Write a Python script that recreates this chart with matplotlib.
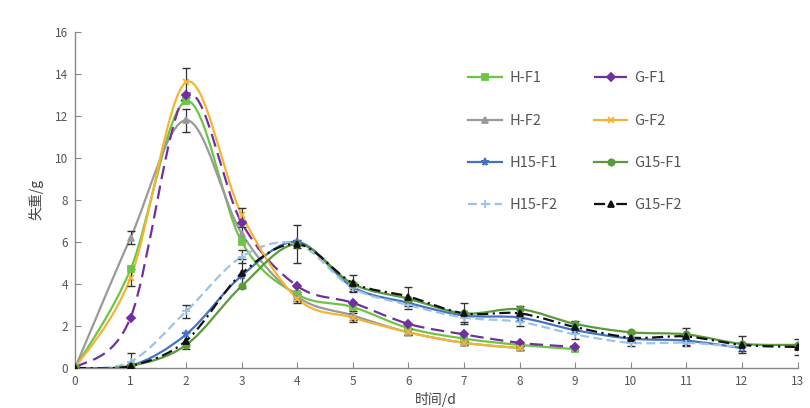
import numpy as np
import matplotlib
matplotlib.use('Agg')
import matplotlib.pyplot as plt
from matplotlib.path import Path
from matplotlib.patches import PathPatch
from matplotlib.lines import Line2D

plt.rcParams['font.family'] = ['Noto Sans CJK SC', 'DejaVu Sans']

# days
days = list(range(14))

# weight loss (g)
h_f1 = [0, 4.7, 12.7, 6.0, 3.5, 2.9, 1.9, 1.4, 1.1, 0.9]
g_f1 = [0, 2.4, 13.0, 6.9, 3.9, 3.1, 2.1, 1.6, 1.2, 1.0]
h_f2 = [0, 6.2, 11.8, 6.4, 3.4, 2.5, 1.7, 1.2, 0.95]
g_f2 = [0, 4.3, 13.6, 7.3, 3.3, 2.4, 1.7, 1.2, 0.95]
h15_f1 = [0, 0.1, 1.6, 4.4, 6.0, 3.85, 3.1, 2.5, 2.4, 1.8, 1.4, 1.3, 0.95]
g15_f1 = [0, 0.1, 1.1, 3.9, 5.9, 4.0, 3.3, 2.6, 2.8, 2.1, 1.7, 1.6, 1.15, 1.1]
h15_f2 = [0, 0.3, 2.7, 5.3, 5.9, 3.8, 3.0, 2.4, 2.2, 1.6, 1.2, 1.2, 1.0]
g15_f2 = [0, 0.1, 1.3, 4.5, 5.9, 4.05, 3.4, 2.6, 2.6, 1.95, 1.45, 1.5, 1.1, 1.0]

# error bars (only the visible ones, others small)
err_h_f2 = [0, 0.3, 0.55, 0.3, 0.2, 0.2, 0.15, 0.1, 0.1]
err_g_f2 = [0, 0.4, 0.7, 0.3, 0.2, 0.2, 0.15, 0.1, 0.1]
err_h15_f2 = [0, 0.4, 0.3, 0.3, 0.2, 0.2, 0.2, 0.2, 0.2, 0.2, 0.15, 0.15, 0.2]
err_g15_f2 = [0, 0.1, 0.4, 0.7, 0.9, 0.4, 0.45, 0.5, 0.35, 0.3, 0.2, 0.4, 0.4, 0.4]

series = [
    ('H-F1', h_f1, None, '#6cc644', '-', 's', 4.5),
    ('H-F2', h_f2, err_h_f2, '#9a9a9a', '-', '^', 4.5),
    ('H15-F1', h15_f1, None, '#4472c4', '-', '*', 5.5),
    ('H15-F2', h15_f2, err_h15_f2, '#9dc3e6', (0, (4, 2)), '+', 5.5),
    ('G-F1', g_f1, None, '#7030a0', (0, (6, 3)), 'D', 4.5),
    ('G-F2', g_f2, err_g_f2, '#f4b533', '-', 'x', 4.5),
    ('G15-F1', g15_f1, None, '#5b9a3a', '-', 'o', 4.5),
    ('G15-F2', g15_f2, err_g15_f2, '#111111', (0, (5, 2, 1, 2)), '^', 4.5),
]


def smooth_path(x, y):
    # Catmull-Rom style Bezier, like Excel's smoothed lines
    pts = np.column_stack([x, y]).astype(float)
    n = len(pts)
    verts = [pts[0]]
    codes = [Path.MOVETO]
    for i in range(n - 1):
        p0 = pts[i - 1] if i > 0 else pts[i]
        p1 = pts[i]
        p2 = pts[i + 1]
        p3 = pts[i + 2] if i + 2 < n else pts[i + 1]
        c1 = p1 + (p2 - p0) / 6.0
        c2 = p2 - (p3 - p1) / 6.0
        verts += [c1, c2, p2]
        codes += [Path.CURVE4] * 3
    return Path(verts, codes)


fig = plt.figure(figsize=(8.1, 4.08), dpi=100)
ax = fig.add_axes([0.0926, 0.098, 0.892, 0.824])

handles = []
for name, vals, err, col, ls, mk, ms in series:
    x = days[:len(vals)]
    patch = PathPatch(smooth_path(x, vals), fill=False, edgecolor=col,
                      linewidth=1.6, linestyle=ls, zorder=3)
    ax.add_patch(patch)
    if err is not None:
        ax.errorbar(x, vals, yerr=err, fmt='none', ecolor='#333333',
                    elinewidth=0.9, capsize=3, zorder=4)
    ax.plot(x, vals, linestyle='none', marker=mk, color=col,
            markersize=ms, markeredgewidth=1.3, zorder=5)
    handles.append(Line2D([], [], color=col, linestyle=ls, linewidth=1.6,
                          marker=mk, markersize=ms, markeredgewidth=1.3,
                          label=name))

ax.set_xlim(0, 13)
ax.set_ylim(0, 16)
ax.set_xticks(range(0, 14))
ax.set_yticks(range(0, 17, 2))
for s in ['top', 'right']:
    ax.spines[s].set_visible(False)
for s in ['left', 'bottom']:
    ax.spines[s].set_color('#888888')
    ax.spines[s].set_linewidth(1.0)
ax.tick_params(direction='in', length=4, color='#888888',
               labelsize=8.5, labelcolor='#555555', pad=5)

ax.set_ylabel('失重/g', fontsize=10, color='#444444', labelpad=8)
ax.set_xlabel('时间/d', fontsize=10, color='#444444', labelpad=3)

leg = fig.legend(handles=handles, ncol=2, loc='upper left',
                 bbox_to_anchor=(0.562, 0.857), frameon=False,
                 fontsize=10.5, labelspacing=1.93, handlelength=2.3,
                 columnspacing=2.5, handletextpad=0.5)
for t in leg.get_texts():
    t.set_color('#555555')

fig.savefig('out.png', dpi=100)
